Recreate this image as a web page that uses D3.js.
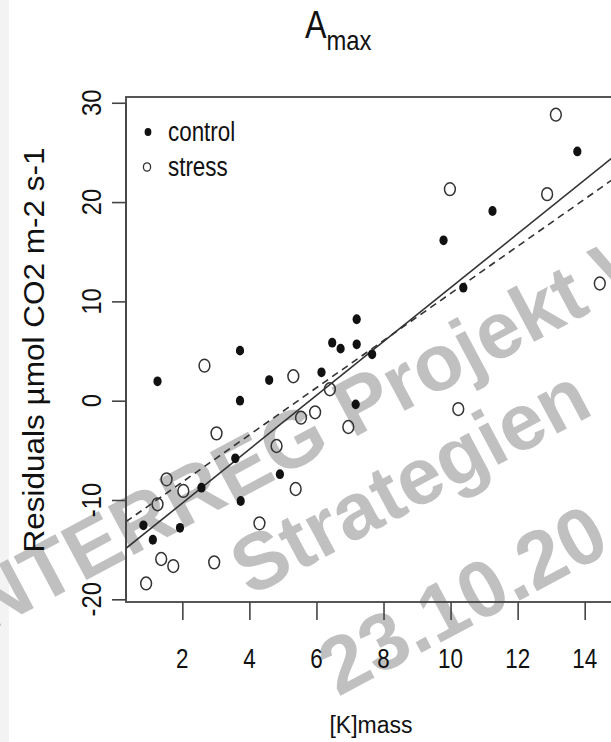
<!DOCTYPE html>
<html><head><meta charset="utf-8">
<script src="https://cdn.jsdelivr.net/npm/d3@7"></script>
<style>html,body{margin:0;padding:0;background:#fff;} svg{display:block;}</style>
</head><body>
<script>
// ---- data ----
const controlX = [13.78, 11.25, 9.79, 10.38, 7.2, 6.47, 6.72, 7.2, 3.72, 1.26, 4.59, 6.15, 3.72, 7.17, 3.58, 4.91, 2.57, 3.74, 0.84, 1.93, 1.12, 7.66];
const controlY = [25.1, 19.1, 16.15, 11.38, 8.2, 5.84, 5.24, 5.68, 5.04, 1.95, 2.08, 2.86, 0.0, -0.37, -5.8, -7.4, -8.76, -10.1, -12.55, -12.8, -14.0, 4.67];
const stressX = [13.14, 9.98, 12.88, 14.45, 2.66, 5.31, 6.4, 5.96, 5.54, 3.02, 6.95, 4.81, 5.38, 1.53, 2.03, 1.26, 4.3, 1.37, 1.73, 2.95, 0.92, 10.23];
const stressY = [28.8, 21.3, 20.8, 11.8, 3.53, 2.46, 1.15, -1.17, -1.71, -3.29, -2.65, -4.56, -8.89, -7.92, -9.09, -10.43, -12.35, -15.94, -16.65, -16.28, -18.4, -0.84];
const fitNames = ["control", "stress"];
const fitIntercepts = [-15.74, -12.94];
const fitSlopes = [2.712, 2.374];
const xTicks = [2, 4, 6, 8, 10, 12, 14];
const yTicks = [-20, -10, 0, 10, 20, 30];
const legendLabels = ["control", "stress"];
const titleMain = "A", titleSub = "max";
const xTitle = "[K]mass";
const yTitle = "Residuals µmol CO2 m-2 s-1";
const watermarkLines = ["INTERREG Projekt W", "Strategien", "23.10.20"];

// ---- layout ----
const W = 611, H = 742;
const box = {left: 126, top: 97, right: 636, bottom: 602};
const x = d3.scaleLinear().domain([0.32, 15.53]).range([box.left, box.right]);
const y = d3.scaleLinear().domain([-20.27, 30.58]).range([box.bottom, box.top]);
const FONT = "'Liberation Sans', Arial, sans-serif";

const svg = d3.select("body").append("svg").attr("width", W).attr("height", H);
svg.append("rect").attr("width", W).attr("height", H).attr("fill", "#fff");
svg.append("rect").attr("width", 9).attr("height", H).attr("fill", "#f3f3f3");

function ntext(g, str, tx, ty, size, sx, opts = {}) {
  const gg = g.append("g").attr("transform", `translate(${tx},${ty}) ${opts.rot ? `rotate(${opts.rot})` : ""} scale(${sx},1)`);
  return gg.append("text").attr("x", 0).attr("y", 0)
    .attr("font-family", FONT).attr("font-size", size)
    .attr("text-anchor", opts.anchor || "middle").attr("fill", opts.fill || "#111")
    .attr("font-weight", opts.weight || "normal")
    .text(str);
}

// watermark
const wm = svg.append("g");
const wmPos = [[-32, 643], [250, 597], [338, 697]];
watermarkLines.forEach((t, i) => {
  wm.append("text").attr("transform", `translate(${wmPos[i][0]},${wmPos[i][1]}) rotate(-28)`)
    .attr("font-family", FONT).attr("font-weight", "bold").attr("font-size", 80)
    .attr("fill", "#c0c0c0").text(t);
});

// clip
svg.append("clipPath").attr("id", "clip").append("rect")
  .attr("x", box.left).attr("y", box.top).attr("width", box.right - box.left).attr("height", box.bottom - box.top);

// fit lines
const plot = svg.append("g").attr("clip-path", "url(#clip)");
const xd = x.domain();
fitNames.forEach((n, i) => {
  plot.append("line")
    .attr("x1", x(xd[0])).attr("y1", y(fitIntercepts[i] + fitSlopes[i] * xd[0]))
    .attr("x2", x(xd[1])).attr("y2", y(fitIntercepts[i] + fitSlopes[i] * xd[1]))
    .attr("stroke", "#333").attr("stroke-width", 1.6)
    .attr("stroke-dasharray", i === 1 ? "7,5" : null);
});

// points
const ctrl = controlX.map((v, i) => [v, controlY[i]]);
const strs = stressX.map((v, i) => [v, stressY[i]]);
plot.selectAll(".s").data(strs).join("ellipse")
  .attr("cx", d => x(d[0])).attr("cy", d => y(d[1])).attr("rx", 5.4).attr("ry", 6.4)
  .attr("fill", "none").attr("stroke", "#333").attr("stroke-width", 1.5);
plot.selectAll(".c").data(ctrl).join("ellipse")
  .attr("cx", d => x(d[0])).attr("cy", d => y(d[1])).attr("rx", 4.1).attr("ry", 4.9)
  .attr("fill", "#111");

// box
svg.append("rect").attr("x", box.left).attr("y", box.top)
  .attr("width", box.right - box.left).attr("height", box.bottom - box.top)
  .attr("fill", "none").attr("stroke", "#444").attr("stroke-width", 1.8);

// axes
const xAxis = svg.append("g").attr("transform", `translate(0,${box.bottom})`)
  .call(d3.axisBottom(x).tickValues(xTicks).tickSize(18).tickFormat(""));
xAxis.select(".domain").remove();
xAxis.selectAll("line").attr("stroke", "#444").attr("stroke-width", 1.6);
const yAxis = svg.append("g").attr("transform", `translate(${box.left},0)`)
  .call(d3.axisLeft(y).tickValues(yTicks).tickSize(14).tickFormat(""));
yAxis.select(".domain").attr("d", `M0,${y(yTicks[0])}V${y(yTicks[yTicks.length - 1])}`).attr("stroke", "#444").attr("stroke-width", 1.6);
yAxis.selectAll("line").attr("stroke", "#444").attr("stroke-width", 1.6);

const lab = svg.append("g");
xTicks.forEach(t => ntext(lab, String(t), x(t), 668, 28, 0.8));
yTicks.forEach(t => ntext(lab, String(t), 101, y(t), 28, 0.85, {rot: -90}));

// titles
const tg = svg.append("g").attr("transform", "translate(305,38) scale(0.85,1)");
const tt = tg.append("text").attr("font-family", FONT).attr("fill", "#111").attr("text-anchor", "start");
tt.append("tspan").attr("font-size", 38).text(titleMain);
tt.append("tspan").attr("font-size", 28).attr("dy", 12).text(titleSub);
ntext(lab, xTitle, 371, 733, 23, 1);
ntext(lab, yTitle, 44, 350, 30, 1.05, {rot: -90});

// legend
const lg = svg.append("g");
lg.append("ellipse").attr("cx", 148).attr("cy", 132).attr("rx", 3.4).attr("ry", 4).attr("fill", "#111");
lg.append("ellipse").attr("cx", 147).attr("cy", 167).attr("rx", 3.6).attr("ry", 4.2).attr("fill", "none").attr("stroke", "#333").attr("stroke-width", 1.3);
ntext(lg, legendLabels[0], 168, 141, 28, 0.8, {anchor: "start"});
ntext(lg, legendLabels[1], 168, 176, 28, 0.8, {anchor: "start"});
</script>
</body></html>
